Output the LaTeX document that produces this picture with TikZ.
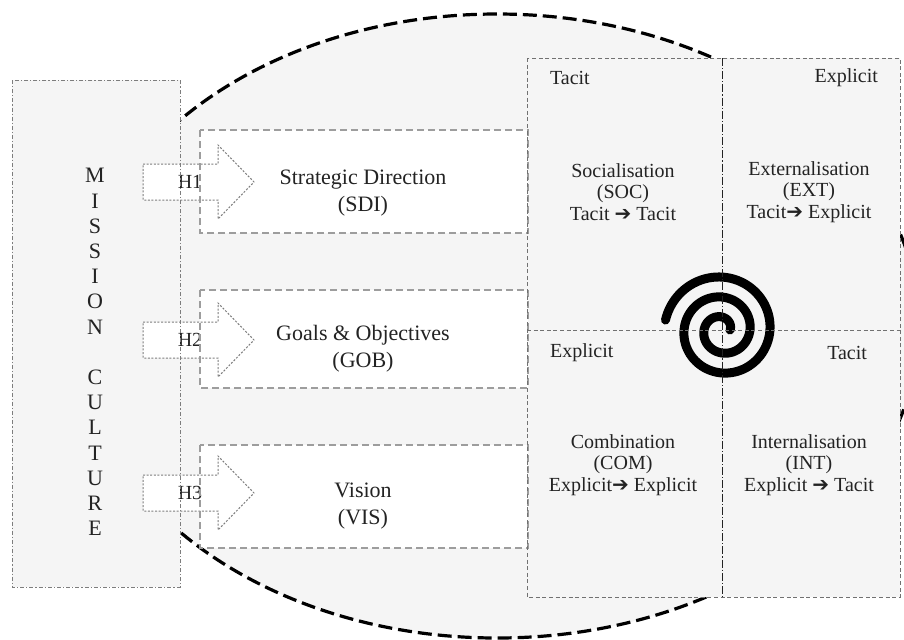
\documentclass[tikz,border=0pt]{standalone}
\usepackage{fontspec}
\setmainfont{Liberation Serif}
\newfontfamily\symfont{DejaVu Sans}
\usepackage{tikz}
\usetikzlibrary{positioning}
\usepackage{xcolor}
\definecolor{paleback}{RGB}{245,245,245}
\definecolor{rim}{RGB}{125,125,125}
\definecolor{ink}{RGB}{35,35,35}
\newcommand{\kto}{{\symfont ➔}}

\tikzset{
  rimline/.style={draw=rim, line width=0.5pt, dash pattern=on 2pt off 1pt on 0.6pt off 1pt},
  boxline/.style={draw=rim!75, line width=0.7pt, dash pattern=on 3.5pt off 2pt},
  quadline/.style={draw=rim!90!black, line width=0.5pt, dash pattern=on 2pt off 1.3pt},
  hblock/.style={fill=white, draw=rim, line width=0.5pt, dash pattern=on 1pt off 0.8pt},
  bigtext/.style={text=ink, align=center, font=\fontsize{11}{13.5}\selectfont},
  quadtext/.style={text=ink, align=center, font=\fontsize{10}{10.8}\selectfont},
  cornertext/.style={text=ink, font=\fontsize{10}{12}\selectfont}
}

\begin{document}
\begin{tikzpicture}[x=0.5pt, y=-0.5pt]
  \useasboundingbox (0,0) rectangle (904,639);
  \clip (0,0) rectangle (904,639);

  % Dashed outer oval
  \draw[fill=paleback, line width=1.6pt, dash pattern=on 7pt off 3pt] (497,326) ellipse [x radius=211pt, y radius=156pt];

  % Mission culture panel and quadrant block
  \fill[paleback] (12,80) rectangle (180,587);
  \fill[paleback] (527,58) rectangle (900,597);

  % White boxes (fill only, borders come later)
  \foreach \ya/\yb in {130/233, 290/388, 445/548}
    \fill[white] (200,\ya) rectangle (528,\yb);

  % Knowledge spiral
  \draw[line width=4.5pt, line cap=round] plot[domain=0:890, samples=220, smooth]
    ({722+(8+0.0555*\x)*cos(\x)}, {330-(8+0.0555*\x)*sin(\x)});

  % Block arrows H1--H3
  \foreach \y/\h in {182/1, 340/2, 493/3}{
    \draw[hblock] (143,\y-18) -- (218,\y-18) -- (218,\y-37) -- (254,\y)
      -- (218,\y+37) -- (218,\y+18) -- (143,\y+18) -- cycle;
    \node[cornertext] (h\h) at (190,\y) {H\h};
  }

  % Borders
  \draw[rimline] (12,80) rectangle (180,587);
  \foreach \ya/\yb in {130/233, 290/388, 445/548}
    \draw[boxline] (200,\ya) rectangle (528,\yb);
  \draw[quadline] (527,58) rectangle (900,597);
  \draw[quadline] (527,330) -- (900,330);
  \draw[draw=ink, line width=0.5pt, dash pattern=on 4pt off 1pt on 0.6pt off 1pt] (722,58) -- (722,597);

  % Left column
  \node[bigtext, font=\fontsize{11}{12.6}\selectfont] (mission) at (95,352)
    {M\\I\\S\\S\\I\\O\\N\\ \\C\\U\\L\\T\\U\\R\\E};

  % Dimension boxes
  \node[bigtext] (sdi) at (363,193) {Strategic Direction\\(SDI)};
  \node[bigtext] (gob) at (363,349) {Goals \& Objectives\\(GOB)};
  \node[bigtext] (vis) at (363,506) {Vision\\(VIS)};

  % SECI quadrants
  \node[cornertext, anchor=west] (tl) at (543,78) {Tacit};
  \node[cornertext, anchor=east] (tr) at (885,78) {Explicit};
  \node[cornertext, anchor=west] (bl) at (543,353) {Explicit};
  \node[cornertext, anchor=east] (br) at (874,353) {Tacit};
  \node[quadtext] (soc) at (623,192) {Socialisation\\(SOC)\\Tacit \kto{} Tacit};
  \node[quadtext] (ext) at (809,192) {Externalisation\\(EXT)\\Tacit\kto{} Explicit};
  \node[quadtext] (com) at (623,465) {Combination\\(COM)\\Explicit\kto{} Explicit};
  \node[quadtext] (int) at (809,465) {Internalisation\\(INT)\\Explicit \kto{} Tacit};
\end{tikzpicture}
\end{document}
